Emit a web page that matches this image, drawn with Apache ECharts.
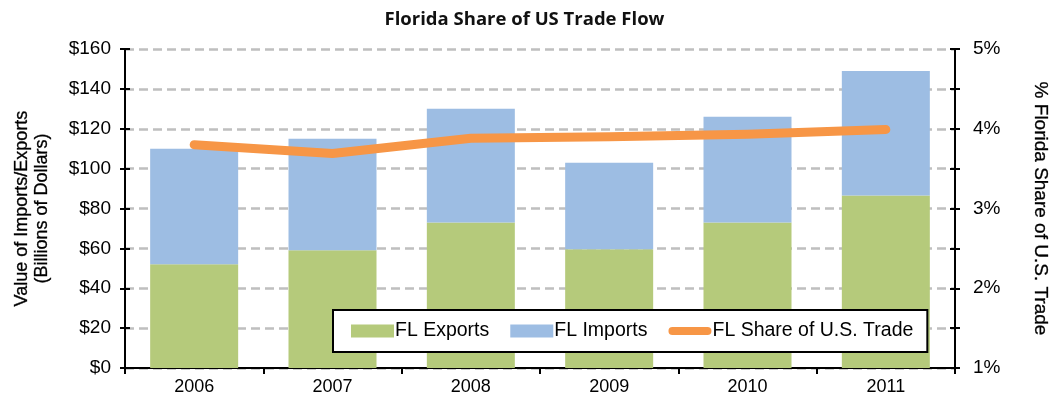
<!DOCTYPE html>
<html>
<head>
<meta charset="utf-8">
<script src="https://cdn.jsdelivr.net/npm/echarts@6/dist/echarts.min.js"></script>
<style>
  html, body { margin: 0; padding: 0; background: #fff; }
  #chart { width: 1049px; height: 400px; }
</style>
</head>
<body>
<div id="chart"></div>
<script>
// Florida trade values (billions of dollars) and share of U.S. trade (%)
const years = ['2006', '2007', '2008', '2009', '2010', '2011'];
const flExports = [52, 59, 73, 59.5, 73, 86.5];
const flImports = [58, 56, 57, 43.5, 53, 62.5];
const flShare = [3.80, 3.69, 3.88, 3.90, 3.93, 3.99];

const FONT = '"Liberation Sans", Arial, sans-serif';
const GREEN = '#b5ca7b';
const BLUE = '#9dbde3';
const ORANGE = '#f79646';

const chart = echarts.init(document.getElementById('chart'));

// hidden companion axes give the crossing tick marks on each vertical axis
const leftBase = { type: 'value', min: 0, max: 160, interval: 20 };
const rightBase = { type: 'value', min: 1, max: 5, interval: 0.5 };
const axisLineBlack = { show: true, lineStyle: { color: '#000', width: 2 } };

chart.setOption({
  animation: false,
  title: {
    text: 'Florida Share of US Trade Flow',
    left: 'center',
    top: 5,
    textStyle: { fontFamily: '"Open Sans", sans-serif', fontSize: 18.5, fontWeight: 'bold', color: '#111' }
  },
  grid: { left: 125, right: 94, top: 49, bottom: 32, outerBoundsMode: 'none', containLabel: false },
  legend: {
    left: 333,
    top: 310,
    padding: [11, 14, 11, 18],
    borderColor: '#000',
    borderWidth: 2,
    backgroundColor: '#fff',
    itemWidth: 43,
    itemHeight: 13,
    itemGap: 21,
    z: 10,
    textStyle: { fontFamily: FONT, fontSize: 19.5, color: '#000', padding: [0, 0, 0, -4] },
    data: [
      { name: 'FL Exports', icon: 'rect' },
      { name: 'FL Imports', icon: 'rect' },
      { name: 'FL Share of U.S. Trade', icon: 'path://M4,0 h35 a4,4 0 0 1 0,8 h-35 a4,4 0 0 1 0,-8 z' }
    ]
  },
  xAxis: {
    type: 'category',
    data: years,
    axisLine: axisLineBlack,
    axisTick: { show: true, length: 6, lineStyle: { color: '#000', width: 2 } },
    axisLabel: { fontFamily: FONT, fontSize: 18, color: '#000', margin: 10 }
  },
  yAxis: [
    Object.assign({}, leftBase, {
      position: 'left',
      name: 'Value of Imports/Exports\n(Billions of Dollars)',
      nameLocation: 'middle',
      nameGap: 73,
      nameTextStyle: { fontFamily: FONT, fontSize: 18, color: '#000', lineHeight: 20, textBorderColor: '#000', textBorderWidth: 0.3 },
      axisLine: axisLineBlack,
      axisTick: { show: true, length: 5, lineStyle: { color: '#000', width: 2 } },
      axisLabel: { fontFamily: FONT, fontSize: 19, color: '#000', margin: 14, formatter: v => '$' + v },
      splitLine: { show: true, lineStyle: { color: '#bfbfbf', width: 2.5, type: [9, 5] } }
    }),
    Object.assign({}, rightBase, {
      position: 'right',
      name: '% Florida Share of U.S. Trade',
      nameLocation: 'middle',
      nameRotate: -90,
      nameGap: 76,
      nameTextStyle: { fontFamily: FONT, fontSize: 19, color: '#000', textBorderColor: '#000', textBorderWidth: 0.3 },
      axisLine: axisLineBlack,
      axisTick: { show: true, length: 5, lineStyle: { color: '#000', width: 2 } },
      axisLabel: {
        fontFamily: FONT, fontSize: 19, color: '#000', margin: 18,
        formatter: v => (Math.abs(v - Math.round(v)) < 1e-6 ? Math.round(v) + '%' : '')
      },
      splitLine: { show: false }
    }),
    Object.assign({}, leftBase, {
      position: 'left',
      axisLine: axisLineBlack,
      axisTick: { show: true, inside: true, length: 5, lineStyle: { color: '#000', width: 2 } },
      axisLabel: { show: false },
      splitLine: { show: false }
    }),
    Object.assign({}, rightBase, {
      position: 'right',
      axisLine: axisLineBlack,
      axisTick: { show: true, inside: true, length: 5, lineStyle: { color: '#000', width: 2 } },
      axisLabel: { show: false },
      splitLine: { show: false }
    })
  ],
  series: [
    {
      name: 'FL Exports',
      type: 'bar',
      stack: 'trade',
      yAxisIndex: 0,
      barWidth: 88,
      itemStyle: { color: GREEN },
      data: flExports
    },
    {
      name: 'FL Imports',
      type: 'bar',
      stack: 'trade',
      yAxisIndex: 0,
      barWidth: 88,
      itemStyle: { color: BLUE },
      data: flImports
    },
    {
      name: 'FL Share of U.S. Trade',
      type: 'line',
      yAxisIndex: 1,
      symbol: 'none',
      z: 5,
      lineStyle: { color: ORANGE, width: 9, cap: 'round', join: 'round' },
      itemStyle: { color: ORANGE },
      data: flShare
    }
  ]
});
</script>
</body>
</html>
